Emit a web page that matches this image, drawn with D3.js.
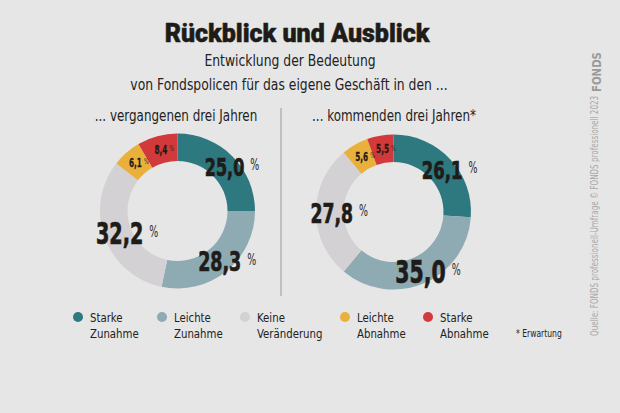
<!DOCTYPE html>
<html><head><meta charset="utf-8">
<script src="https://cdn.jsdelivr.net/npm/d3@7"></script>
<style>
html,body{margin:0;padding:0;background:#e6e6e6;}
svg{display:block;}
</style></head>
<body>
<svg id="c" width="620" height="413"></svg>
<script>
const categories = ["Starke Zunahme","Leichte Zunahme","Keine Veränderung","Leichte Abnahme","Starke Abnahme"];
const legendLines = [["Starke","Zunahme"],["Leichte","Zunahme"],["Keine","Veränderung"],["Leichte","Abnahme"],["Starke","Abnahme"]];
const pastValues = [25.0, 28.3, 32.2, 6.1, 8.4];
const futureValues = [26.1, 35.0, 27.8, 5.6, 5.5];
const colors = ["#2e7880", "#8eaab2", "#d3d1d3", "#e9b13c", "#d2393a"];
const panelTitles = ["... vergangenen drei Jahren", "... kommenden drei Jahren*"];

const svg = d3.select("#c");
const W = 620, H = 413;
svg.append("rect").attr("width", W).attr("height", H).attr("fill", "#e6e6e6");

const narrow = "'DejaVu Sans Condensed','Liberation Sans Narrow',sans-serif";

function ntext(parent, x, y, str, o) {
  const g = parent.append("g").attr("transform", `translate(${x},${y}) scale(${o.sx || 1},1)`);
  const t = g.append("text")
    .attr("text-anchor", o.anchor || "start")
    .attr("font-family", o.family || narrow)
    .attr("font-weight", o.weight || "normal")
    .attr("font-size", o.size)
    .attr("fill", o.fill || "#222")
    .text(str);
  if (o.baseline) t.attr("dominant-baseline", o.baseline);
  return t;
}

// Title
svg.append("text").attr("x", 297).attr("y", 42).attr("text-anchor", "middle")
  .attr("font-family", "Roboto, 'DejaVu Sans', sans-serif").attr("font-weight", 900)
  .attr("font-size", 25).attr("fill", "#1e1b18").attr("stroke", "#1e1b18").attr("stroke-width", 0.5)
  .text("Rückblick und Ausblick");
ntext(svg, 290, 66, "Entwicklung der Bedeutung", {size: 16, anchor: "middle", sx: 0.86});
ntext(svg, 289, 90, "von Fondspolicen für das eigene Geschäft in den ...", {size: 16, anchor: "middle", sx: 0.86});

svg.append("line").attr("x1", 281).attr("x2", 281).attr("y1", 108).attr("y2", 296)
  .attr("stroke", "#9a9a9a").attr("stroke-width", 1);

const fmt = v => d3.format(".1f")(v).replace(".", ",");

const pie = d3.pie().sort(null).value(d => d);
const rInner = 50, rOuter = 77.5;
const arc = d3.arc().innerRadius(rInner).outerRadius(rOuter);
// label size grows with the value (cap height 18px at 25 % -> 23px at 35 %)
const bigSize = d3.scaleLinear().domain([25, 35]).range([18 / 0.729, 23 / 0.729]);

const panels = [
  {values: pastValues, cx: 177.5, cy: 211, title: panelTitles[0], tx: 176},
  {values: futureValues, cx: 393.5, cy: 212, title: panelTitles[1], tx: 394}
];

panels.forEach(p => {
  ntext(svg, p.tx, 121, p.title, {size: 16, anchor: "middle", sx: 0.83});
  const g = svg.append("g").attr("transform", `translate(${p.cx},${p.cy})`);
  const arcs = pie(p.values);
  g.selectAll("path").data(arcs).join("path")
    .attr("d", arc).attr("fill", (d, i) => colors[i]);
  arcs.forEach((d, i) => {
    let [x, y] = arc.centroid(d);
    const big = d.data >= 10;
    if (big) { x += 2; y += 1; }
    const fs = big ? bigSize(d.data) : 13;
    const sx = big ? 0.72 : 0.62;
    const num = ntext(g, x, y, fmt(d.data), {size: fs, anchor: "middle", sx: sx,
      weight: "bold", fill: "#1e1b18", baseline: "central"});
    num.attr("stroke", "#1e1b18").attr("stroke-width", big ? 0.7 : 0.3);
    const w = num.node().getComputedTextLength() * sx;
    ntext(g, x + w / 2 + (big ? 6 : 2), y + (big ? -2 : -1), "%", {size: big ? 15 : 8,
      sx: 0.7, fill: "#2a2a2a", baseline: "central"});
  });
});

const legendX = [78, 162, 245, 345, 428];
legendLines.forEach((lines, i) => {
  const lg = svg.append("g");
  lg.append("circle").attr("cx", legendX[i]).attr("cy", 317).attr("r", 5).attr("fill", colors[i]);
  lines.forEach((t, j) => {
    ntext(lg, legendX[i] + 12, 322 + j * 16, t, {size: 13, sx: 0.87});
  });
});
ntext(svg, 516, 337, "* Erwartung", {size: 10, sx: 0.85});

svg.append("g").attr("transform", "translate(598,336) rotate(-90) scale(0.8,1)")
  .append("text")
  .attr("font-family", narrow).attr("font-size", 10).attr("fill", "#a8a8a8")
  .text("Quelle: FONDS professionell-Umfrage © FONDS professionell 2023");
svg.append("g").attr("transform", "translate(601,92) rotate(-90) scale(0.85,1)")
  .append("text")
  .attr("font-family", "'DejaVu Sans',sans-serif").attr("font-weight", "bold")
  .attr("font-size", 12).attr("fill", "#9a9a9a").text("FONDS");
</script>
</body></html>
